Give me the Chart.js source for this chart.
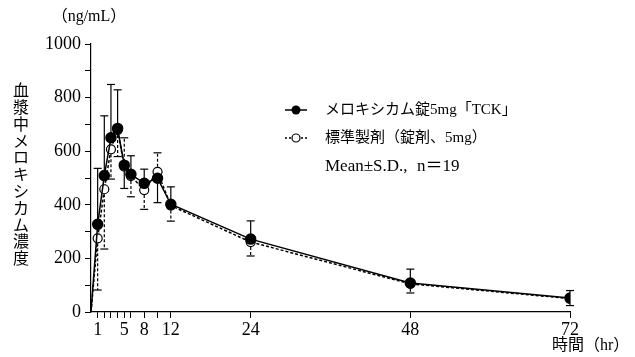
<!DOCTYPE html>
<html>
<head>
<meta charset="utf-8">
<script src="https://cdn.jsdelivr.net/npm/chart.js@4"></script>
<style>
  html, body { margin: 0; padding: 0; background: #fff; }
  #wrap { width: 635px; height: 357px; }
</style>
</head>
<body>
<div id="wrap"><canvas id="pkChart"></canvas></div>
<script>
// sampling times (hr)
const times = [0, 1, 2, 3, 4, 5, 6, 8, 10, 12, 24, 48, 72];

// メロキシカム錠5mg「TCK」
const tckMean = [0, 327, 509, 650, 685, 548, 514, 480, 499, 402, 272, 108, 52];
const tckSD = [0, 209, 223, 199, 144, 87, 69, 53, 91, 65, 68, 52, 28];
const tckSide = ['', 'up', 'up', 'up', 'up', 'down', 'up', 'up', 'down', 'up', 'up', 'up', 'both'];

// 標準製剤
const refMean = [0, 275, 458, 607, 679, 542, 507, 455, 523, 397, 261, 105, 50];
const refSD = [0, 193, 223, 111, 99, 108, 77, 72, 71, 58, 52, 34, 0];
const refSide = ['', 'down', 'down', 'down', 'down', 'up', 'down', 'down', 'up', 'down', 'down', 'down', ''];

// axis ticks
const xTicks = [1, 2, 3, 4, 5, 6, 8, 10, 12, 24, 48, 72];
const xLabels = [1, 5, 8, 12, 24, 48, 72];

const serif = '"Liberation Serif", "DejaVu Serif", "Noto Sans CJK JP", serif';
const jp = '"Liberation Serif", "Noto Sans CJK JP", serif';

function toPoints(means) {
  return times.map((t, i) => ({ x: t, y: means[i] }));
}

// error bars, drawn before the points so markers sit on top
const errorBars = {
  id: 'errorBars',
  beforeDatasetsDraw(chart) {
    const ctx = chart.ctx;
    const xs = chart.scales.x, ys = chart.scales.y;
    const sets = [
      { mean: refMean, sd: refSD, side: refSide, dash: [3, 2] },
      { mean: tckMean, sd: tckSD, side: tckSide, dash: [] }
    ];
    ctx.save();
    ctx.strokeStyle = '#000';
    ctx.lineWidth = 1.2;
    sets.forEach(s => {
      times.forEach((t, i) => {
        if (!s.side[i] || !s.sd[i]) return;
        const px = xs.getPixelForValue(t);
        const py = ys.getPixelForValue(s.mean[i]);
        const ends = [];
        if (s.side[i] === 'up' || s.side[i] === 'both') ends.push(ys.getPixelForValue(s.mean[i] + s.sd[i]));
        if (s.side[i] === 'down' || s.side[i] === 'both') ends.push(ys.getPixelForValue(s.mean[i] - s.sd[i]));
        ends.forEach(ey => {
          ctx.setLineDash(s.dash);
          ctx.beginPath();
          ctx.moveTo(px, py);
          ctx.lineTo(px, ey);
          ctx.stroke();
          ctx.setLineDash([]);
          ctx.beginPath();
          ctx.moveTo(px - 4, ey);
          ctx.lineTo(px + 4, ey);
          ctx.stroke();
        });
      });
    });
    ctx.restore();
  }
};

// axis titles and legend text
const labels = {
  id: 'labels',
  afterDraw(chart) {
    const ctx = chart.ctx;
    ctx.save();
    ctx.fillStyle = '#000';
    ctx.textBaseline = 'middle';

    ctx.font = '16px ' + jp;
    ctx.textAlign = 'center';
    ctx.fillText('（ng/mL）', 89, 17);

    const yTitle = '血漿中メロキシカム濃度';
    ctx.font = '16px ' + jp;
    [...yTitle].forEach((c, i) => ctx.fillText(c, 21, 92 + i * 16.8));

    ctx.font = '16px ' + jp;
    ctx.textAlign = 'left';
    ctx.fillText('時間（hr）', 552, 346);

    // legend
    const lx1 = 285, lx2 = 307, mx = 296;
    const rows = [110, 138, 167];
    ctx.strokeStyle = '#000';
    ctx.lineWidth = 1.5;
    ctx.beginPath();
    ctx.moveTo(lx1, rows[0]); ctx.lineTo(lx2, rows[0]);
    ctx.stroke();
    ctx.beginPath();
    ctx.arc(mx, rows[0], 4.5, 0, Math.PI * 2);
    ctx.fillStyle = '#000';
    ctx.fill();

    ctx.setLineDash([2, 2]);
    ctx.beginPath();
    ctx.moveTo(lx1, rows[1]); ctx.lineTo(lx2, rows[1]);
    ctx.stroke();
    ctx.setLineDash([]);
    ctx.beginPath();
    ctx.arc(mx, rows[1], 4, 0, Math.PI * 2);
    ctx.fillStyle = '#fff';
    ctx.fill();
    ctx.lineWidth = 1.2;
    ctx.stroke();

    ctx.fillStyle = '#000';
    ctx.font = '15px ' + jp;
    ctx.fillText('メロキシカム錠5mg「TCK」', 325, rows[0]);
    ctx.fillText('標準製剤（錠剤、5mg）', 325, rows[1]);
    ctx.font = '17px ' + jp;
    ctx.fillText('Mean±S.D.,', 325, rows[2]);
    ctx.fillText('n＝19', 417, rows[2]);
    ctx.restore();
  }
};

new Chart(document.getElementById('pkChart'), {
  type: 'line',
  data: {
    datasets: [
      {
        label: 'メロキシカム錠5mg「TCK」',
        data: toPoints(tckMean),
        borderColor: '#000',
        borderWidth: 1.5,
        backgroundColor: '#000',
        pointBackgroundColor: '#000',
        pointBorderColor: '#000',
        pointRadius: times.map(t => t === 0 ? 0 : 5),
        tension: 0
      },
      {
        label: '標準製剤（錠剤、5mg）',
        data: toPoints(refMean),
        borderColor: '#000',
        borderWidth: 1.5,
        borderDash: [3, 2],
        pointBackgroundColor: '#fff',
        pointBorderColor: '#000',
        pointBorderWidth: 1.2,
        pointRadius: times.map(t => t === 0 ? 0 : 4.5),
        tension: 0
      }
    ]
  },
  options: {
    responsive: true,
    maintainAspectRatio: false,
    animation: false,
    layout: { padding: { left: 0, top: 44, right: 65, bottom: 0 } },
    plugins: {
      legend: { display: false },
      tooltip: { enabled: false }
    },
    scales: {
      x: {
        type: 'linear',
        min: 0,
        max: 72,
        afterBuildTicks(scale) {
          scale.ticks = xTicks.map(v => ({ value: v }));
        },
        afterFit(scale) { scale.height = 45; },
        ticks: {
          autoSkip: false,
          maxRotation: 0,
          color: '#000',
          padding: 1,
          font: { family: serif, size: 18 },
          callback: v => xLabels.includes(v) ? String(v) : ''
        },
        grid: { drawOnChartArea: false, color: '#000', tickLength: 6 },
        border: { color: '#000', width: 1.2 }
      },
      y: {
        min: 0,
        max: 1000,
        afterFit(scale) { scale.width = 91; },
        ticks: {
          stepSize: 100,
          color: '#000',
          padding: 4,
          font: { family: serif, size: 18 },
          callback: v => v % 200 === 0 ? String(v) : ''
        },
        grid: { drawOnChartArea: false, color: '#000', tickLength: 6 },
        border: { color: '#000', width: 1.2 }
      }
    }
  },
  plugins: [errorBars, labels]
});
</script>
</body>
</html>
